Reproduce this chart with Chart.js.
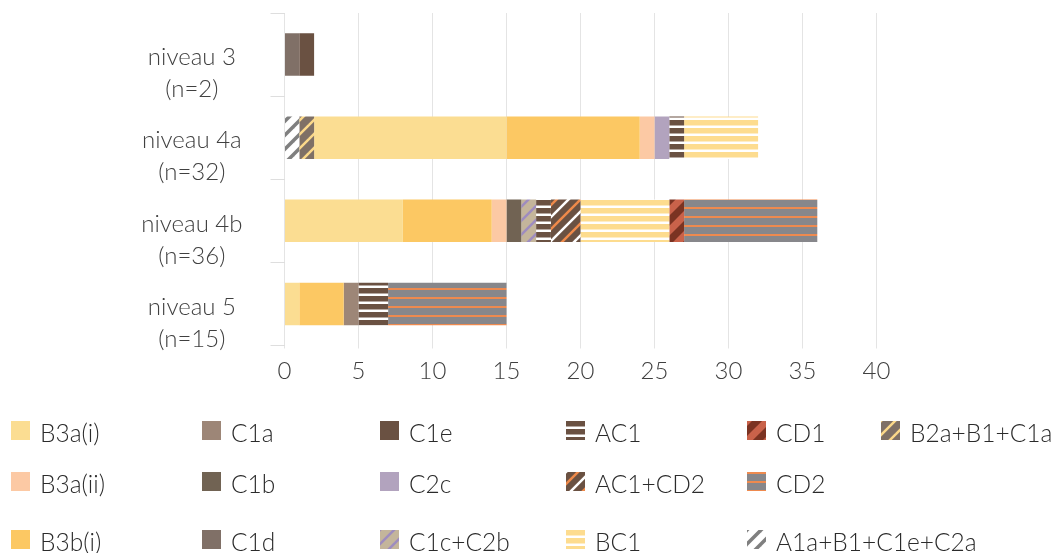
<!DOCTYPE html>
<html><head><meta charset="utf-8">
<script src="https://cdn.jsdelivr.net/npm/chart.js@4/dist/chart.umd.min.js"></script>
<style>
html,body{margin:0;padding:0;background:#fff;}
#wrap{position:relative;width:1055px;height:553px;overflow:hidden;}
#c{position:absolute;left:0;top:0;}
.sw{position:absolute;width:19px;height:19px;}
.lt{position:absolute;font-family:Lato,"Open Sans",sans-serif;font-weight:300;font-size:24.5px;line-height:24px;color:#2b2b2b;white-space:nowrap;}
</style></head>
<body><div id="wrap"><canvas id="c" width="1055" height="553"></canvas></div>
<script>
// ---- data ----
const categories = [['niveau 3','(n=2)'],['niveau 4a','(n=32)'],['niveau 4b','(n=36)'],['niveau 5','(n=15)']];
const xTicks = [0,5,10,15,20,25,30,35,40];
// values per category: niveau 3, niveau 4a, niveau 4b, niveau 5 (stack order)
const vA1aB1C1eC2a = [0,1,0,0];
const vB2aB1C1a    = [0,1,0,0];
const vB3ai        = [0,13,8,1];
const vB3bi        = [0,9,6,3];
const vB3aii       = [0,1,1,0];
const vC1a         = [0,0,0,1];
const vC1b         = [0,0,1,0];
const vC1d         = [1,0,0,0];
const vC1cC2b      = [0,0,1,0];
const vC1e         = [1,0,0,0];
const vC2c         = [0,1,0,0];
const vAC1         = [0,1,1,2];
const vAC1CD2      = [0,0,2,0];
const vBC1         = [0,5,6,0];
const vCD1         = [0,0,1,0];
const vCD2         = [0,0,9,8];

const series = [
  ['A1a+B1+C1e+C2a', vA1aB1C1eC2a],
  ['B2a+B1+C1a', vB2aB1C1a],
  ['B3a(i)', vB3ai],
  ['B3b(i)', vB3bi],
  ['B3a(ii)', vB3aii],
  ['C1a', vC1a],
  ['C1b', vC1b],
  ['C1d', vC1d],
  ['C1c+C2b', vC1cC2b],
  ['C1e', vC1e],
  ['C2c', vC2c],
  ['AC1', vAC1],
  ['AC1+CD2', vAC1CD2],
  ['BC1', vBC1],
  ['CD1', vCD1],
  ['CD2', vCD2]
];
const legendRows = [
  ['B3a(i)','C1a','C1e','AC1','CD1','B2a+B1+C1a'],
  ['B3a(ii)','C1b','C2c','AC1+CD2','CD2'],
  ['B3b(i)','C1d','C1c+C2b','BC1','A1a+B1+C1e+C2a']
];

// ---- styles ----
const styles = {
  'B3a(i)': {solid:'#fbdd92'},
  'B3a(ii)': {solid:'#fcc9a4'},
  'B3b(i)': {solid:'#fcc863'},
  'C1a': {solid:'#9d8677'},
  'C1b': {solid:'#716353'},
  'C1d': {solid:'#807067'},
  'C1e': {solid:'#6a5142'},
  'C2c': {solid:'#b2a3be'},
  'AC1': {h:true, bg:'#ffffff', fg:'#6a5142', period:8, w:5.5},
  'BC1': {h:true, bg:'#ffffff', fg:'#fddc8f', period:8, w:5.5},
  'CD2': {h:true, bg:'#87878b', fg:'#ee8a4f', period:9, w:2},
  'CD1': {d:true, bg:'#7b3322', lines:[['#c9624a',0]], s:20, w:7},
  'AC1+CD2': {d:true, bg:'#6a5142', lines:[['#ffffff',0],['#ef8a4a',12]], s:24, w:2.5},
  'B2a+B1+C1a': {d:true, bg:'#7f7066', lines:[['#fcd98a',0]], s:14, w:2.5},
  'C1c+C2b': {d:true, bg:'#c4b59b', lines:[['#9e8cbf',0]], s:14, w:2.5},
  'A1a+B1+C1e+C2a': {d:true, bg:'#ffffff', lines:[['#7f7f7f',0]], s:14, w:3.5}
};

function makeFill(ctx, st){
  if (st.solid) return st.solid;
  const t = document.createElement('canvas');
  const g = t.getContext('2d');
  if (st.h){
    t.width = st.period; t.height = st.period;
    g.fillStyle = st.bg; g.fillRect(0,0,st.period,st.period);
    g.fillStyle = st.fg; g.fillRect(0,0,st.period,st.w);
  } else {
    const s = st.s;
    t.width = s; t.height = s;
    g.fillStyle = st.bg; g.fillRect(0,0,s,s);
    g.lineWidth = st.w;
    st.lines.forEach(([col,off])=>{
      g.strokeStyle = col;
      for (let k=-2;k<=2;k++){
        const c = k*s + off;
        g.beginPath();
        g.moveTo(c - s, 2*s);
        g.lineTo(c + 2*s, -s);
        g.stroke();
      }
    });
  }
  return ctx.createPattern(t,'repeat');
}

const canvas = document.getElementById('c');
const ctx = canvas.getContext('2d');

const datasets = series.map(([name, vals]) => ({
  label: name,
  data: vals,
  backgroundColor: makeFill(ctx, styles[name]),
  borderWidth: 0,
  categoryPercentage: 0.51,
  barPercentage: 1.0
}));

const FONT = {family:'Lato, "Open Sans", sans-serif', size:24, weight:'300'};

new Chart(ctx, {
  type:'bar',
  data:{labels:categories, datasets},
  options:{
    responsive:false,
    animation:false,
    indexAxis:'y',
    layout:{padding:{left:0,right:178.5,top:13,bottom:147.5}},
    plugins:{legend:{display:false}, tooltip:{enabled:false}},
    scales:{
      x:{
        type:'linear', stacked:true, min:0, max:40,
        afterBuildTicks(s){ s.ticks = xTicks.map(v=>({value:v})); },
        ticks:{font:FONT, color:'#404040', padding:8},
        grid:{color:'#e4e4e4', tickLength:3, lineWidth:1},
        border:{display:false},
        afterFit(s){ s.height = 60; s.paddingLeft = 0; s.paddingRight = 0; }
      },
      y:{
        stacked:true,
        ticks:{crossAlign:'center', labelOffset:19, padding:28, font:Object.assign({},FONT,{lineHeight:1.33}), color:'#404040'},
        grid:{drawOnChartArea:false, tickLength:14, color:'#dedede'},
        border:{display:false},
        afterFit(s){ s.width = 284.5; s.paddingTop = 0; s.paddingBottom = 0; }
      }
    }
  }
});

// ---- HTML legend ----
const colX = [11,202,380,566,747,881];
const rowY = [421,472,530];
const wrap = document.getElementById('wrap');
legendRows.forEach((row, r) => {
  row.forEach((name, c) => {
    const sw = document.createElement('canvas');
    sw.width = 19; sw.height = 19; sw.className = 'sw';
    sw.style.left = colX[c] + 'px'; sw.style.top = rowY[r] + 'px';
    const g = sw.getContext('2d');
    g.fillStyle = makeFill(g, styles[name]);
    g.fillRect(0,0,19,19);
    wrap.appendChild(sw);
    const t = document.createElement('div');
    t.className = 'lt';
    t.textContent = name;
    t.style.left = (colX[c] + 29) + 'px';
    t.style.top = (rowY[r]) + 'px';
    wrap.appendChild(t);
  });
});
</script></body></html>
